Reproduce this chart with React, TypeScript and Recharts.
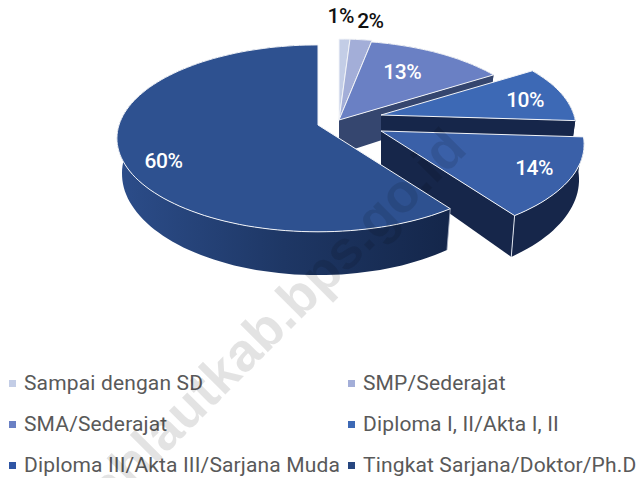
import { Legend, Pie, PieChart } from "recharts";

const categories = [
  "Sampai dengan SD",
  "SMP/Sederajat",
  "SMA/Sederajat",
  "Diploma I, II/Akta I, II",
  "Diploma III/Akta III/Sarjana Muda",
  "Tingkat Sarjana/Doktor/Ph.D",
];
const shares = [1, 2, 13, 10, 14, 60];

const topColors = ["#c3cde6", "#a3aed8", "#6a80c4", "#3d69b5", "#3a60a8", "#2e5190"];
const legendColors = ["#c3cde6", "#a3aed8", "#6a80c4", "#3d69b5", "#2f55a4", "#27467f"];
const wallColors = ["#6b7ba0", "#56668f", "#35466f", "#16264a", "#16264a", "url(#wall60)"];

// how far each slice is pulled out of the pie, in screen px
const explode = [
  [21, -5],
  [21, -5],
  [21, -5],
  [63, -10],
  [63, 6],
  [0, 0],
];
const radiusScale = [1, 1, 0.98, 0.96, 1, 0.99];
const labelFraction = [1.27, 1.23, 0.6, 0.76, 0.82, 0.79];
const labelNudge = [
  [-5, -5],
  [5, -3],
  [0, -5],
  [0, 2],
  [0, -2],
  [2, 13],
];

const tableData = categories.map((name, i) => ({ name, value: shares[i], fill: topColors[i] }));

// fake perspective: the disc is squashed and the back of it is further away
const PERSPECTIVE = 0.143;
const TOP_RY = 0.46;
const BOTTOM_RY = 0.5;
const BOTTOM_RX = 0.975;
const DEPTH = 34;

const RAD = Math.PI / 180;

function topPoint(cx: number, cy: number, r: number, angle: number, f = 1) {
  const u = Math.cos(angle * RAD) * f;
  const v = Math.sin(angle * RAD) * f;
  const w = 1 + PERSPECTIVE * v;
  return [cx + (r * u) / w, cy - (r * TOP_RY * v) / w];
}

function bottomPoint(cx: number, cy: number, r: number, angle: number) {
  const u = Math.cos(angle * RAD);
  const v = Math.sin(angle * RAD);
  const w = 1 + PERSPECTIVE * v;
  return [cx + (r * BOTTOM_RX * u) / w, cy + DEPTH - (r * BOTTOM_RY * v) / w];
}

function arc(pointAt: (a: number) => number[], from: number, to: number) {
  const steps = Math.max(2, Math.ceil(Math.abs(to - from) / 2));
  const pts: number[][] = [];
  for (let i = 0; i <= steps; i++) pts.push(pointAt(from + ((to - from) * i) / steps));
  return pts;
}

const toPath = (pts: number[][]) =>
  "M" + pts.map((p) => `${p[0].toFixed(1)},${p[1].toFixed(1)}`).join("L") + "Z";

function Slice3D(props: any) {
  const { cx, cy, outerRadius, startAngle, endAngle, index, fill } = props;
  const x = cx + explode[index][0];
  const y = cy + explode[index][1];
  const r = outerRadius * radiusScale[index];
  const top = (a: number) => topPoint(x, y, r, a);
  const bottom = (a: number) => bottomPoint(x, y, r, a);

  const topArc = arc(top, startAngle, endAngle);
  const bottomArc = arc(bottom, startAngle, endAngle);
  const wall = wallColors[index];

  return (
    <g>
      {index === 5 && (
        <defs>
          <linearGradient id="wall60" x1="0" x2="1" y1="0" y2="0">
            <stop offset="0" stopColor="#2c4d8a" />
            <stop offset="0.5" stopColor="#1e3765" />
            <stop offset="1" stopColor="#14264a" />
          </linearGradient>
        </defs>
      )}
      {/* cut face on the trailing edge */}
      {index !== 5 && (
        <path
          d={toPath([[x, y], top(endAngle), bottom(endAngle), [x, y + DEPTH]])}
          fill={wall}
        />
      )}
      <path d={toPath([...topArc, ...[...bottomArc].reverse()])} fill={wall} />
      {index === 4 && (
        <path
          d={`M${top(endAngle).join(",")}L${bottom(endAngle).join(",")}`}
          stroke="#dfe4ee"
          strokeWidth={1}
        />
      )}
      {index === 5 && (
        <path
          d={`M${top(startAngle).join(",")}L${bottom(startAngle).join(",")}`}
          stroke="#aab3c6"
          strokeWidth={0.8}
        />
      )}
      <path d={toPath([[x, y], ...topArc])} fill={fill} stroke="#f2f4f8" strokeWidth={1} strokeLinejoin="round" />
    </g>
  );
}

function renderLabel(props: any) {
  const { cx, cy, outerRadius, midAngle, index, value } = props;
  const [px, py] = topPoint(
    cx + explode[index][0],
    cy + explode[index][1],
    outerRadius,
    midAngle,
    labelFraction[index],
  );
  return (
    <text
      x={px + labelNudge[index][0]}
      y={py + labelNudge[index][1]}
      textAnchor="middle"
      dominantBaseline="central"
      fontFamily="Roboto, sans-serif"
      fontWeight={500}
      fontSize={21}
      letterSpacing={-0.5}
      fill={index < 2 ? "#111111" : "#ffffff"}
    >
      {value}%
    </text>
  );
}

function LegendGrid({ payload }: any) {
  return (
    <div style={{ position: "relative", width: 641, height: 108 }}>
      {(payload || []).map((item: any, i: number) => (
        <div
          key={item.value}
          style={{
            position: "absolute",
            left: i % 2 === 0 ? 9 : 348,
            top: Math.floor(i / 2) * 41,
            height: 26,
            display: "flex",
            alignItems: "center",
            whiteSpace: "nowrap",
            fontFamily: "Roboto, sans-serif",
            fontSize: 21,
            letterSpacing: 0.15,
            color: "#595959",
          }}
        >
          <span style={{ width: 7, height: 7, background: legendColors[i], marginRight: 8 }} />
          {item.value}
        </div>
      ))}
    </div>
  );
}

export default function App() {
  return (
    <div style={{ position: "absolute", left: 0, top: 0, width: 641, height: 478, overflow: "hidden", background: "#fff" }}>
      <PieChart width={641} height={478} margin={{ top: 0, right: 0, bottom: 0, left: 0 }}>
        <Pie
          data={tableData}
          dataKey="value"
          nameKey="name"
          cx={318}
          cy={125}
          outerRadius={201}
          startAngle={90}
          endAngle={-270}
          stroke="none"
          shape={Slice3D}
          label={renderLabel}
          labelLine={false}
          isAnimationActive={false}
        />
        <Legend content={LegendGrid} itemSorter={null} wrapperStyle={{ left: 0, top: 370, width: 641 }} />
      </PieChart>
      {/* site watermark across the chart */}
      <svg width={641} height={478} style={{ position: "absolute", left: 0, top: 0, pointerEvents: "none" }}>
        <text
          x={53}
          y={567}
          transform="rotate(-45 53 567)"
          fontFamily="Liberation Sans, sans-serif"
          fontWeight={700}
          fontSize={54}
          fill="rgba(0,0,0,0.11)"
        >
          tanahlautkab.bps.go.id
        </text>
      </svg>
    </div>
  );
}
